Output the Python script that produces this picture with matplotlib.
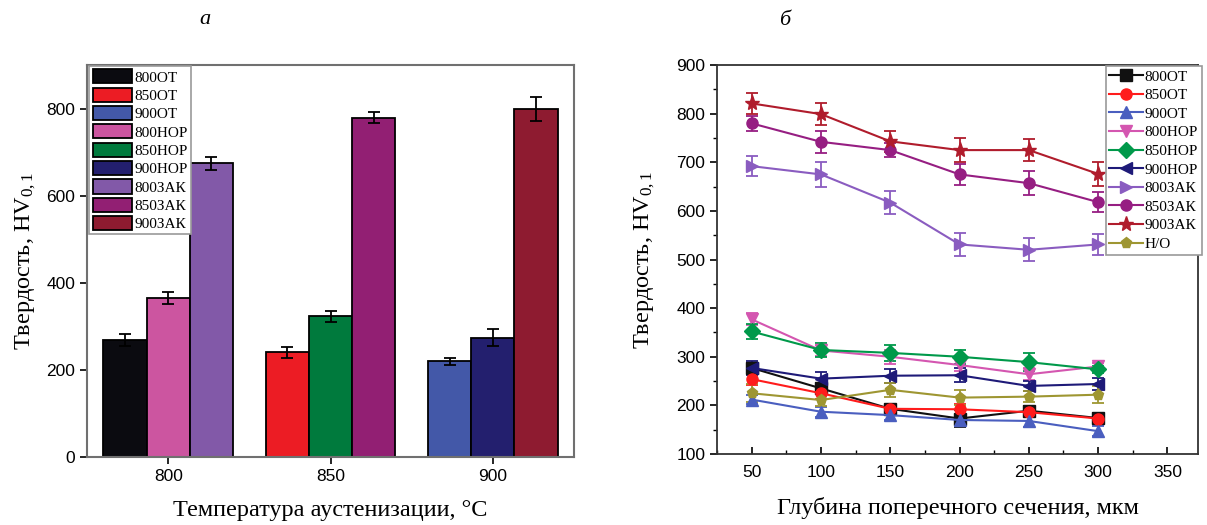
import matplotlib
matplotlib.use('Agg')
import matplotlib.pyplot as plt
from matplotlib.lines import Line2D
from matplotlib.ticker import MultipleLocator

plt.rcParams['mathtext.fontset'] = 'custom'
plt.rcParams['mathtext.rm'] = 'Liberation Serif'
plt.rcParams['mathtext.it'] = 'Liberation Serif:italic'

# --- data: bar chart (a) ---
temps = [800, 850, 900]
treatments = ['ОТ', 'НОР', 'ЗАК']
ot_vals = [269, 240, 220]
ot_err = [13, 13, 8]
nor_vals = [365, 323, 274]
nor_err = [13, 12, 19]
zak_vals = [674, 779, 799]
zak_err = [14, 12, 27]
bar_colors = {
    'ОТ': ['#0b0b10', '#ec1c24', '#4358a8'],
    'НОР': ['#cc55a0', '#007a3d', '#231f6e'],
    'ЗАК': ['#8259a8', '#921f73', '#8e1b30'],
}

# --- data: line chart (b) ---
depth = [50, 100, 150, 200, 250, 300]
series_names = ['800ОТ', '850ОТ', '900ОТ', '800НОР', '850НОР', '900НОР',
                '800ЗАК', '850ЗАК', '900ЗАК', 'Н/О']
s800ot = [277, 235, 193, 173, 189, 174]
s850ot = [254, 225, 193, 192, 186, 173]
s900ot = [212, 187, 180, 170, 168, 147]
s800nor = [377, 313, 300, 283, 264, 280]
s850nor = [352, 314, 308, 300, 289, 274]
s900nor = [277, 255, 261, 262, 240, 244]
s800zak = [692, 675, 617, 531, 520, 531]
s850zak = [780, 742, 725, 675, 657, 618]
s900zak = [821, 799, 743, 725, 725, 676]
s_no = [225, 211, 232, 216, 218, 222]
e800ot = [10, 12, 10, 18, 10, 10]
e850ot = [12, 12, 10, 10, 10, 10]
e900ot = [10, 10, 10, 12, 12, 10]
e800nor = [12, 12, 14, 12, 12, 8]
e850nor = [15, 15, 16, 14, 18, 8]
e900nor = [14, 14, 14, 14, 10, 12]
e800zak = [20, 25, 24, 24, 24, 22]
e850zak = [15, 22, 15, 22, 24, 21]
e900zak = [21, 23, 22, 24, 22, 24]
e_no = [18, 12, 14, 16, 12, 18]
line_vals = [s800ot, s850ot, s900ot, s800nor, s850nor, s900nor,
             s800zak, s850zak, s900zak, s_no]
line_errs = [e800ot, e850ot, e900ot, e800nor, e850nor, e900nor,
             e800zak, e850zak, e900zak, e_no]
line_colors = ['#111111', '#ff1c1c', '#4a5ebf', '#d456b0', '#00994a',
               '#1e1a78', '#8a5cc0', '#961e82', '#b01c2c', '#9e9632']
line_markers = ['s', 'o', '^', 'v', 'D', '<', '>', 'o', '*', 'p']

serif = 'Liberation Serif'
sans = 'Liberation Sans'

fig = plt.figure(figsize=(12.07, 5.25), dpi=100)

# ---------------- chart a ----------------
ax1 = fig.add_axes([0.0721, 0.1295, 0.4035, 0.7467])
width = 13.3
offsets = [-width, 0, width]
for k, tr in enumerate(treatments):
    vals = [ot_vals, nor_vals, zak_vals][k]
    errs = [ot_err, nor_err, zak_err][k]
    for i, t in enumerate(temps):
        ax1.bar(t + offsets[k], vals[i], width=width, color=bar_colors[tr][i],
                edgecolor='black', linewidth=1.3, label=f'{t}{tr}', zorder=2)
        ax1.errorbar(t + offsets[k], vals[i], yerr=errs[i], fmt='none',
                     ecolor='black', elinewidth=1.3, capsize=4, capthick=1.3, zorder=3)

ax1.set_xlim(775, 925)
ax1.set_ylim(0, 900)
ax1.set_xticks(temps)
ax1.set_yticks([0, 200, 400, 600, 800])
ax1.tick_params(direction='out', length=5, width=1.2, labelsize=12.5)
for lab in ax1.get_xticklabels() + ax1.get_yticklabels():
    lab.set_fontfamily(sans)
for sp in ax1.spines.values():
    sp.set_color('#707070')
    sp.set_linewidth(1.5)
ax1.set_xlabel('Температура аустенизации, °C', fontfamily=serif, fontsize=17.5, labelpad=12)
ax1.set_ylabel('Твердость, HV$_{0,1}$', fontfamily=serif, fontsize=17.5, labelpad=6)
leg1 = ax1.legend(loc='upper left', bbox_to_anchor=(0.005, 0.997), ncol=1,
                  prop={'family': serif, 'size': 11}, handlelength=2.6,
                  handleheight=1.05, labelspacing=0.2, borderpad=0.2,
                  handletextpad=0.15, borderaxespad=0.0, fancybox=False,
                  framealpha=1, edgecolor='#999999')
leg1.get_frame().set_linewidth(1.2)
ax1.text(0.242, 1.115, 'а', transform=ax1.transAxes, ha='center', va='center',
         fontfamily=serif, fontstyle='italic', fontsize=16)

# ---------------- chart b ----------------
ax2 = fig.add_axes([0.594, 0.1352, 0.3985, 0.741])
handles = []
for name, vals, errs, c, m in zip(series_names, line_vals, line_errs,
                                  line_colors, line_markers):
    ms = 11 if m == '*' else 8
    ax2.errorbar(depth, vals, yerr=errs, color=c, marker=m, markersize=ms,
                 linewidth=1.5, elinewidth=1.3, capsize=4, capthick=1.3)
    handles.append(Line2D([], [], color=c, marker=m, markersize=ms,
                          linewidth=1.5, label=name))

ax2.set_xlim(25, 372)
ax2.set_ylim(100, 900)
ax2.xaxis.set_major_locator(MultipleLocator(50))
ax2.xaxis.set_minor_locator(MultipleLocator(25))
ax2.yaxis.set_major_locator(MultipleLocator(100))
ax2.yaxis.set_minor_locator(MultipleLocator(50))
ax2.set_xticks([50, 100, 150, 200, 250, 300, 350])
ax2.tick_params(axis='y', which='major', direction='out', length=5, width=1.2, labelsize=12.5)
ax2.tick_params(axis='y', which='minor', direction='out', length=3, width=1.0)
ax2.tick_params(axis='x', which='major', direction='in', length=5, width=1.2, labelsize=12.5, pad=8)
ax2.tick_params(axis='x', which='minor', direction='in', length=3, width=1.0)
for lab in ax2.get_xticklabels() + ax2.get_yticklabels():
    lab.set_fontfamily(sans)
for sp in ax2.spines.values():
    sp.set_color('#333333')
    sp.set_linewidth(1.3)
ax2.set_xlabel('Глубина поперечного сечения, мкм', fontfamily=serif, fontsize=17.5, labelpad=12)
ax2.set_ylabel('Твердость, HV$_{0,1}$', fontfamily=serif, fontsize=17.5, labelpad=14)
leg2 = ax2.legend(handles=handles, loc='upper right', bbox_to_anchor=(1.008, 0.997),
                  prop={'family': serif, 'size': 11}, handlelength=2.2,
                  labelspacing=0.32, borderpad=0.25, handletextpad=0.1,
                  borderaxespad=0.0, fancybox=False, framealpha=1,
                  edgecolor='#999999')
leg2.get_frame().set_linewidth(1.2)
ax2.text(0.141, 1.115, 'б', transform=ax2.transAxes, ha='center', va='center',
         fontfamily=serif, fontstyle='italic', fontsize=16)

fig.savefig('out.png', dpi=100, facecolor='white')
plt.close(fig)
